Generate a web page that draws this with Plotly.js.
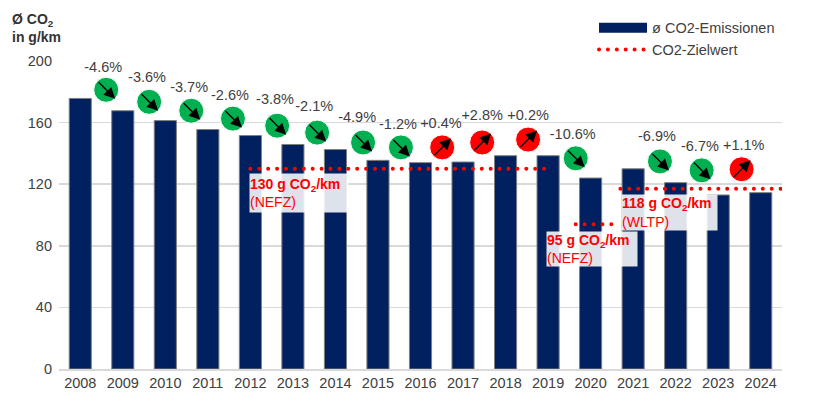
<!DOCTYPE html>
<html>
<head>
<meta charset="utf-8">
<script src="https://cdn.plot.ly/plotly-3.0.1.min.js"></script>
<style>
html, body { margin: 0; padding: 0; background: #fff; }
.js-line[style*="rgb(255, 0, 0)"] { stroke-linecap: round; }
</style>
</head>
<body>
<div id="chart" style="width:818px;height:404px;"></div>
<script>
var years = [2008, 2009, 2010, 2011, 2012, 2013, 2014, 2015, 2016, 2017, 2018, 2019, 2020, 2021, 2022, 2023, 2024];
var emissions = [175.7, 167.7, 161.3, 155.5, 151.6, 145.8, 142.5, 135.5, 134, 134.4, 138.5, 138.5, 124, 130, 121, 113, 114.5];

var changeLabels = ['-4.6%', '-3.6%', '-3.7%', '-2.6%', '-3.8%', '-2.1%', '-4.9%', '-1.2%', '+0.4%', '+2.8%', '+0.2%', '-10.6%', '-6.9%', '-6.7%', '+1.1%'];
var labelX = [2008.54, 2009.57, 2010.56, 2011.52, 2012.58, 2013.5, 2014.51, 2015.47, 2016.48, 2017.45, 2018.53, 2019.58, 2021.56, 2022.57, 2023.6];
var labelY = [195.5, 189, 182, 176.8, 174.2, 169.7, 162.6, 158, 158.7, 163.9, 163.9, 151.6, 150.3, 143.9, 144.5];
var circleX = [2008.61, 2009.62, 2010.61, 2011.59, 2012.63, 2013.57, 2014.65, 2015.54, 2016.51, 2017.45, 2018.53, 2019.65, 2021.63, 2022.61, 2023.55];
var circleY = [181.3, 173.5, 167.7, 162.6, 158, 153.5, 147.1, 143.9, 143.9, 147.1, 149, 136.8, 134.8, 129, 129.7];

var target130X = [2012, 2019];
var target130Y = [130, 130];
var target95X = [2019.65, 2020.5];
var target95Y = [94, 94];
var target118X = [2020.7, 2024.5];
var target118Y = [117, 117];

var navy = '#002060';
var red = '#ff0000';
var green = '#00b050';
var grey = '#404040';
var font = 'Liberation Sans, Arial, sans-serif';

function targetLine(x, y, name, showlegend) {
    return {
        x: x, y: y, name: name, type: 'scatter', mode: 'lines', showlegend: showlegend, cliponaxis: false,
        hoverinfo: 'skip', line: {color: red, width: 4, dash: '0px,8.9px'}
    };
}

var data = [
    {
        x: years, y: emissions, type: 'bar', showlegend: false, width: 0.52,
        marker: {color: navy, line: {color: '#7f7f7f', width: 1}}
    },
    // bar swatch in the legend is fixed size, so a thick line stands in for it
    {
        x: [null], y: [null], name: 'ø CO2-Emissionen', type: 'scatter', mode: 'lines',
        line: {color: navy, width: 10}
    },
    targetLine(target130X, target130Y, 'CO2-Zielwert', true),
    targetLine(target95X, target95Y, '95 g', false),
    targetLine(target118X, target118Y, '118 g', false),
    {
        x: circleX, y: circleY, type: 'scatter', mode: 'markers', showlegend: false, cliponaxis: false,
        marker: {
            size: 25,
            color: changeLabels.map(function(l) { return l[0] === '+' ? red : green; }),
            line: {color: '#ffffff', width: 1}
        }
    },
    {
        x: labelX, y: labelY, text: changeLabels, type: 'scatter', mode: 'text', showlegend: false, cliponaxis: false,
        textposition: 'middle center', textfont: {family: font, size: 14.5, color: grey}
    }
];

function targetBox(x, y, w, h, text) {
    return {
        x: x, y: y, xref: 'x', yref: 'y', xanchor: 'left', yanchor: 'top', align: 'left', valign: 'middle',
        width: w, height: h, showarrow: false, text: text, bgcolor: 'rgba(255,255,255,0.87)', borderpad: 0,
        font: {family: font, size: 14, color: red}
    };
}

var annotations = [
    {
        x: 10, y: 9, xref: 'paper', yref: 'paper', xanchor: 'left', yanchor: 'top', align: 'left', showarrow: false,
        text: '<b>Ø CO<sub>2</sub><br>in g/km</b>', font: {family: font, size: 14, color: '#333333'}
    },
    targetBox(2011.97, 127.1, 98, 38, '<b>130 g CO<sub>2</sub>/km</b><br>(NEFZ)'),
    targetBox(2018.95, 89.7, 90, 34, '<b>95 g CO<sub>2</sub>/km</b><br>(NEFZ)'),
    targetBox(2020.71, 113.5, 95, 35, '<b>118 g CO<sub>2</sub>/km</b><br>(WLTP)')
];
annotations[0].x = -0.068;
annotations[0].y = 1.17;

// black arrows on top of the circles
changeLabels.forEach(function(l, i) {
    var up = l[0] === '+';
    annotations.push({
        x: circleX[i], y: circleY[i], xref: 'x', yref: 'y', text: '', showarrow: true,
        xshift: 9, yshift: up ? 9 : -9, ax: -18, ay: up ? 18 : -18,
        arrowhead: 2, arrowsize: 1.6, arrowwidth: 1.4, arrowcolor: '#000000', standoff: 0
    });
});

var layout = {
    width: 818, height: 404,
    margin: {l: 59, r: 36, t: 59, b: 35},
    paper_bgcolor: '#ffffff', plot_bgcolor: '#ffffff',
    font: {family: font, size: 14.5, color: grey},
    showlegend: true,
    legend: {
        x: 0.74, y: 1.16, xanchor: 'left', yanchor: 'top', itemwidth: 48, itemclick: false, itemdoubleclick: false,
        bgcolor: 'rgba(0,0,0,0)', font: {family: font, size: 14.5, color: grey}
    },
    xaxis: {
        range: [2007.5, 2024.5], tickmode: 'array', tickvals: years, ticktext: years.map(String), tickangle: 0,
        automargin: false, showgrid: false, zeroline: false, showline: true, linecolor: '#d9d9d9', linewidth: 1.5, ticks: ''
    },
    yaxis: {
        range: [0, 200], dtick: 40, automargin: false, gridcolor: '#d9d9d9', gridwidth: 1.5, zeroline: false, ticks: '', ticklabelstandoff: 6
    },
    annotations: annotations
};

Plotly.newPlot('chart', data, layout, {displayModeBar: false, staticPlot: true});
</script>
</body>
</html>
